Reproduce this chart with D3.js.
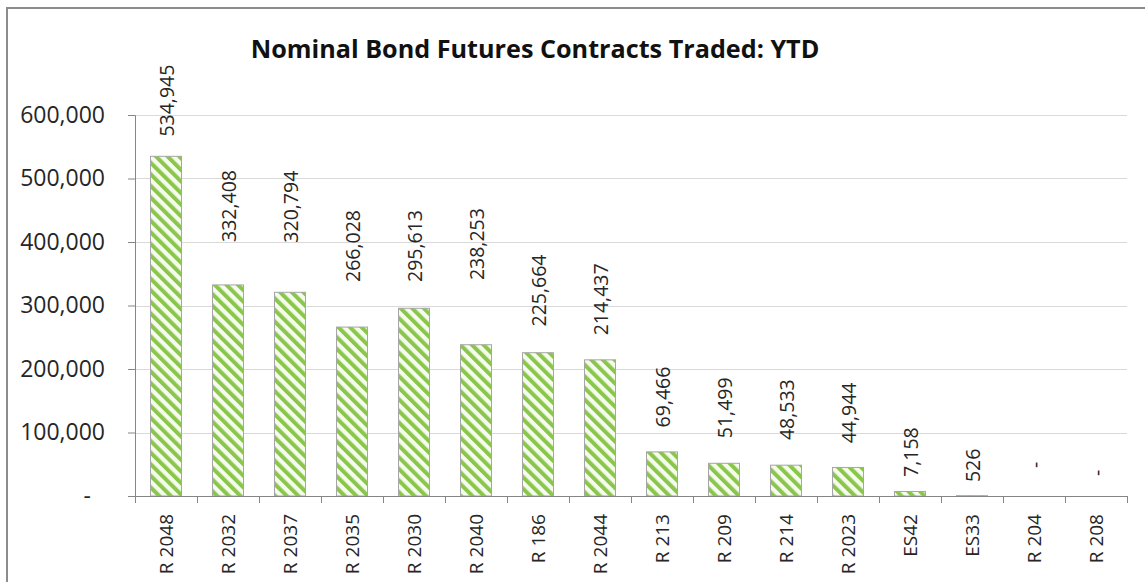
<!DOCTYPE html>
<html>
<head>
<meta charset="utf-8">
<script src="https://cdn.jsdelivr.net/npm/d3@7"></script>
<style>
    body { margin: 0; background: #fff; }
    text { font-family: "Open Sans", "Noto Sans", sans-serif; }
</style>
</head>
<body>
<svg id="main" width="1145" height="582"></svg>
<script>
const margin = { top: 115, right: 18, bottom: 86, left: 135 };
const width = 1145 - margin.left - margin.right;
const height = 582 - margin.top - margin.bottom;

// contracts traded per bond, year to date
const bonds = ['R 2048', 'R 2032', 'R 2037', 'R 2035', 'R 2030', 'R 2040', 'R 186', 'R 2044',
    'R 213', 'R 209', 'R 214', 'R 2023', 'ES42', 'ES33', 'R 204', 'R 208'];
const contracts = [534945, 332408, 320794, 266028, 295613, 238253, 225664, 214437,
    69466, 51499, 48533, 44944, 7158, 526, 0, 0];
const yTicks = [0, 100000, 200000, 300000, 400000, 500000, 600000];

// where each data label starts (value units), the labels in the source are not tied to the bar tops
const labelAt = [566000, 400000, 399000, 337000, 337000, 340000, 267000, 253000,
    108000, 91000, 88000, 83000, 30000, 22000, 44000, 31500];

var svg = d3.select('#main');

svg.append('rect')
    .attr('x', 0).attr('y', 0)
    .attr('width', 1145).attr('height', 582)
    .attr('fill', '#fff');

// chart frame, runs off the right and bottom edge
svg.append('rect')
    .attr('x', 7).attr('y', 8)
    .attr('width', 1160).attr('height', 600)
    .attr('fill', 'none')
    .attr('stroke', '#8c8c8c')
    .attr('stroke-width', 2);

var defs = svg.append('defs');
var pat = defs.append('pattern')
    .attr('id', 'stripes')
    .attr('patternUnits', 'userSpaceOnUse')
    .attr('width', 8.2)
    .attr('height', 8.2)
    .attr('patternTransform', 'rotate(-45)');
pat.append('rect')
    .attr('width', 8.2).attr('height', 8.2)
    .attr('fill', '#f6fbef');
pat.append('rect')
    .attr('width', 4).attr('height', 8.2)
    .attr('fill', '#8ac64a');

var xScale = d3.scaleBand()
    .domain(bonds)
    .range([0, width])
    .paddingInner(0.5)
    .paddingOuter(0.25);

var yScale = d3.scaleLinear()
    .domain([0, 600000])
    .range([height, 0]);

var g = svg.append('g')
    .attr('transform', `translate(${margin.left}, ${margin.top})`);

// gridlines
g.append('g')
    .selectAll('line')
    .data(yTicks.filter(d => d > 0))
    .enter()
    .append('line')
    .attr('x1', 0)
    .attr('x2', width)
    .attr('y1', d => Math.round(yScale(d)) + 0.5)
    .attr('y2', d => Math.round(yScale(d)) + 0.5)
    .attr('stroke', '#d9d9d9');

var fmt = d => d === 0 ? '-' : d3.format(',')(d);

// y axis
var yAxis = g.append('g')
    .call(d3.axisLeft(yScale).tickValues(yTicks).tickSize(7).tickPadding(23).tickFormat(fmt));
yAxis.select('.domain').attr('stroke', '#868686');
yAxis.selectAll('.tick line').attr('stroke', '#868686');
yAxis.selectAll('.tick text')
    .attr('fill', '#262626')
    .style('font-size', '23px')
    .attr('dx', d => d === 0 ? -14 : 0);

// bars
g.append('g')
    .selectAll('rect')
    .data(contracts)
    .enter()
    .append('rect')
    .attr('x', (d, i) => xScale(bonds[i]))
    .attr('y', d => yScale(d))
    .attr('width', xScale.bandwidth())
    .attr('height', d => height - yScale(d))
    .attr('fill', 'url(#stripes)')
    .attr('stroke', '#a6a6a6')
    .attr('stroke-width', 1);

// x axis with ticks between categories
var step = xScale.step();
var xAxis = g.append('g').attr('transform', `translate(0, ${height})`);
xAxis.append('line')
    .attr('x1', 0).attr('x2', width)
    .attr('y1', 0.5).attr('y2', 0.5)
    .attr('stroke', '#868686');
xAxis.selectAll('.sep')
    .data(d3.range(bonds.length + 1))
    .enter()
    .append('line')
    .attr('class', 'sep')
    .attr('x1', i => i * step + 0.5)
    .attr('x2', i => i * step + 0.5)
    .attr('y1', 0)
    .attr('y2', 7)
    .attr('stroke', '#868686');
xAxis.selectAll('text')
    .data(bonds)
    .enter()
    .append('text')
    .attr('transform', d => `translate(${xScale(d) + xScale.bandwidth() / 2}, 18) rotate(-90)`)
    .attr('text-anchor', 'end')
    .attr('dominant-baseline', 'central')
    .attr('fill', '#262626')
    .style('font-size', '19px')
    .text(d => d);

// data labels
g.append('g')
    .selectAll('text')
    .data(contracts)
    .enter()
    .append('text')
    .attr('transform', (d, i) => `translate(${xScale(bonds[i]) + xScale.bandwidth() / 2}, ${yScale(labelAt[i])}) rotate(-90)`)
    .attr('text-anchor', 'start')
    .attr('dominant-baseline', 'central')
    .attr('fill', '#262626')
    .style('font-size', '19.5px')
    .text(fmt);

// title, fitted to the width it has in the source
var title = svg.append('text')
    .attr('x', 535)
    .attr('y', 58)
    .attr('text-anchor', 'middle')
    .attr('fill', '#111')
    .style('font-weight', 'bold')
    .style('font-size', '24px')
    .text('Nominal Bond Futures Contracts Traded: YTD');
var tw = title.node().getComputedTextLength();
title.style('font-size', (24 * 570 / tw).toFixed(1) + 'px');
</script>
</body>
</html>
